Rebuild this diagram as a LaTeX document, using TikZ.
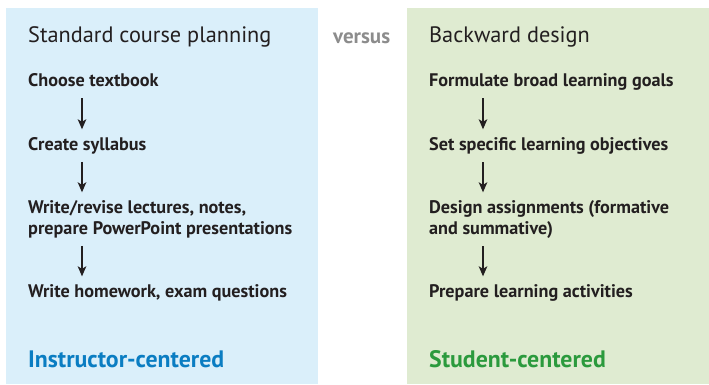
\documentclass[tikz,border=0pt]{standalone}
\usepackage{fontspec}
\setmainfont{PT Sans}
\usetikzlibrary{arrows.meta}

\definecolor{panelblue}{HTML}{DAEFFA}
\definecolor{panelgreen}{HTML}{DFEBD1}
\definecolor{instrblue}{HTML}{0A7DC2}
\definecolor{studgreen}{HTML}{2B9A3D}
\definecolor{versusgray}{HTML}{8C8C8C}
\definecolor{ink}{HTML}{231F20}

\tikzset{
  heading/.style={anchor=base west, inner sep=0, text=ink,
    font=\fontsize{22.3}{26}\selectfont},
  stepnode/.style={anchor=base west, inner sep=0, align=left, text=ink,
    font=\fontsize{18.2}{21}\selectfont\bfseries},
  centred/.style={anchor=base west, inner sep=0,
    font=\fontsize{23.8}{28}\selectfont\bfseries},
  flow/.style={-{Stealth[length=10pt,width=8.5pt,inset=2.5pt]}, line width=1.8pt, ink,
    shorten <=8pt, shorten >=7.5pt},
}

\begin{document}
\begin{tikzpicture}[x=1pt,y=-1pt]
\useasboundingbox (0,0) rectangle (709,384);
% panels
\fill[panelblue] (6,8) rectangle (318,384);
\fill[panelgreen] (407,8) rectangle (709,384);

% standard planning
\node[heading] (std) at (28,42) {Standard course planning};
\node[stepnode] (choose) at (28,86) {Choose textbook};
\node[stepnode] (syllabus) at (28,150) {Create syllabus};
\node[stepnode] (lectures) at (28,234) {Write/revise lectures, notes,\\prepare PowerPoint presentations};
\node[stepnode] (homework) at (28,297) {Write homework, exam questions};
\node[centred, text=instrblue] (instr) at (28,367) {Instructor-centered};

\node[heading, text=versusgray, font=\fontsize{21}{25}\selectfont\bfseries] (vs) at (333,43) {versus};

% backward design
\node[heading] (bwd) at (429,42) {Backward design};
\node[stepnode] (goals) at (429,86) {Formulate broad learning goals};
\node[stepnode] (objectives) at (429,150) {Set specific learning objectives};
\node[stepnode] (assign) at (429,234) {Design assignments (formative\\and summative)};
\node[stepnode] (activities) at (429,297) {Prepare learning activities};
\node[centred, text=studgreen] (student) at (429,367) {Student-centered};

% arrows
\draw[flow, shorten <=12pt] ([xshift=54pt]choose.south west) -- ([xshift=54pt]syllabus.north west);
\draw[flow] ([xshift=54pt]syllabus.south west) -- ([xshift=54pt]lectures.north west);
\draw[flow] ([xshift=54pt]lectures.south west) -- ([xshift=54pt]homework.north west);
\draw[flow] ([xshift=54pt]goals.south west) -- ([xshift=54pt]objectives.north west);
\draw[flow] ([xshift=54pt]objectives.south west) -- ([xshift=54pt]assign.north west);
\draw[flow] ([xshift=54pt]assign.south west) -- ([xshift=54pt]activities.north west);
\end{tikzpicture}
\end{document}
